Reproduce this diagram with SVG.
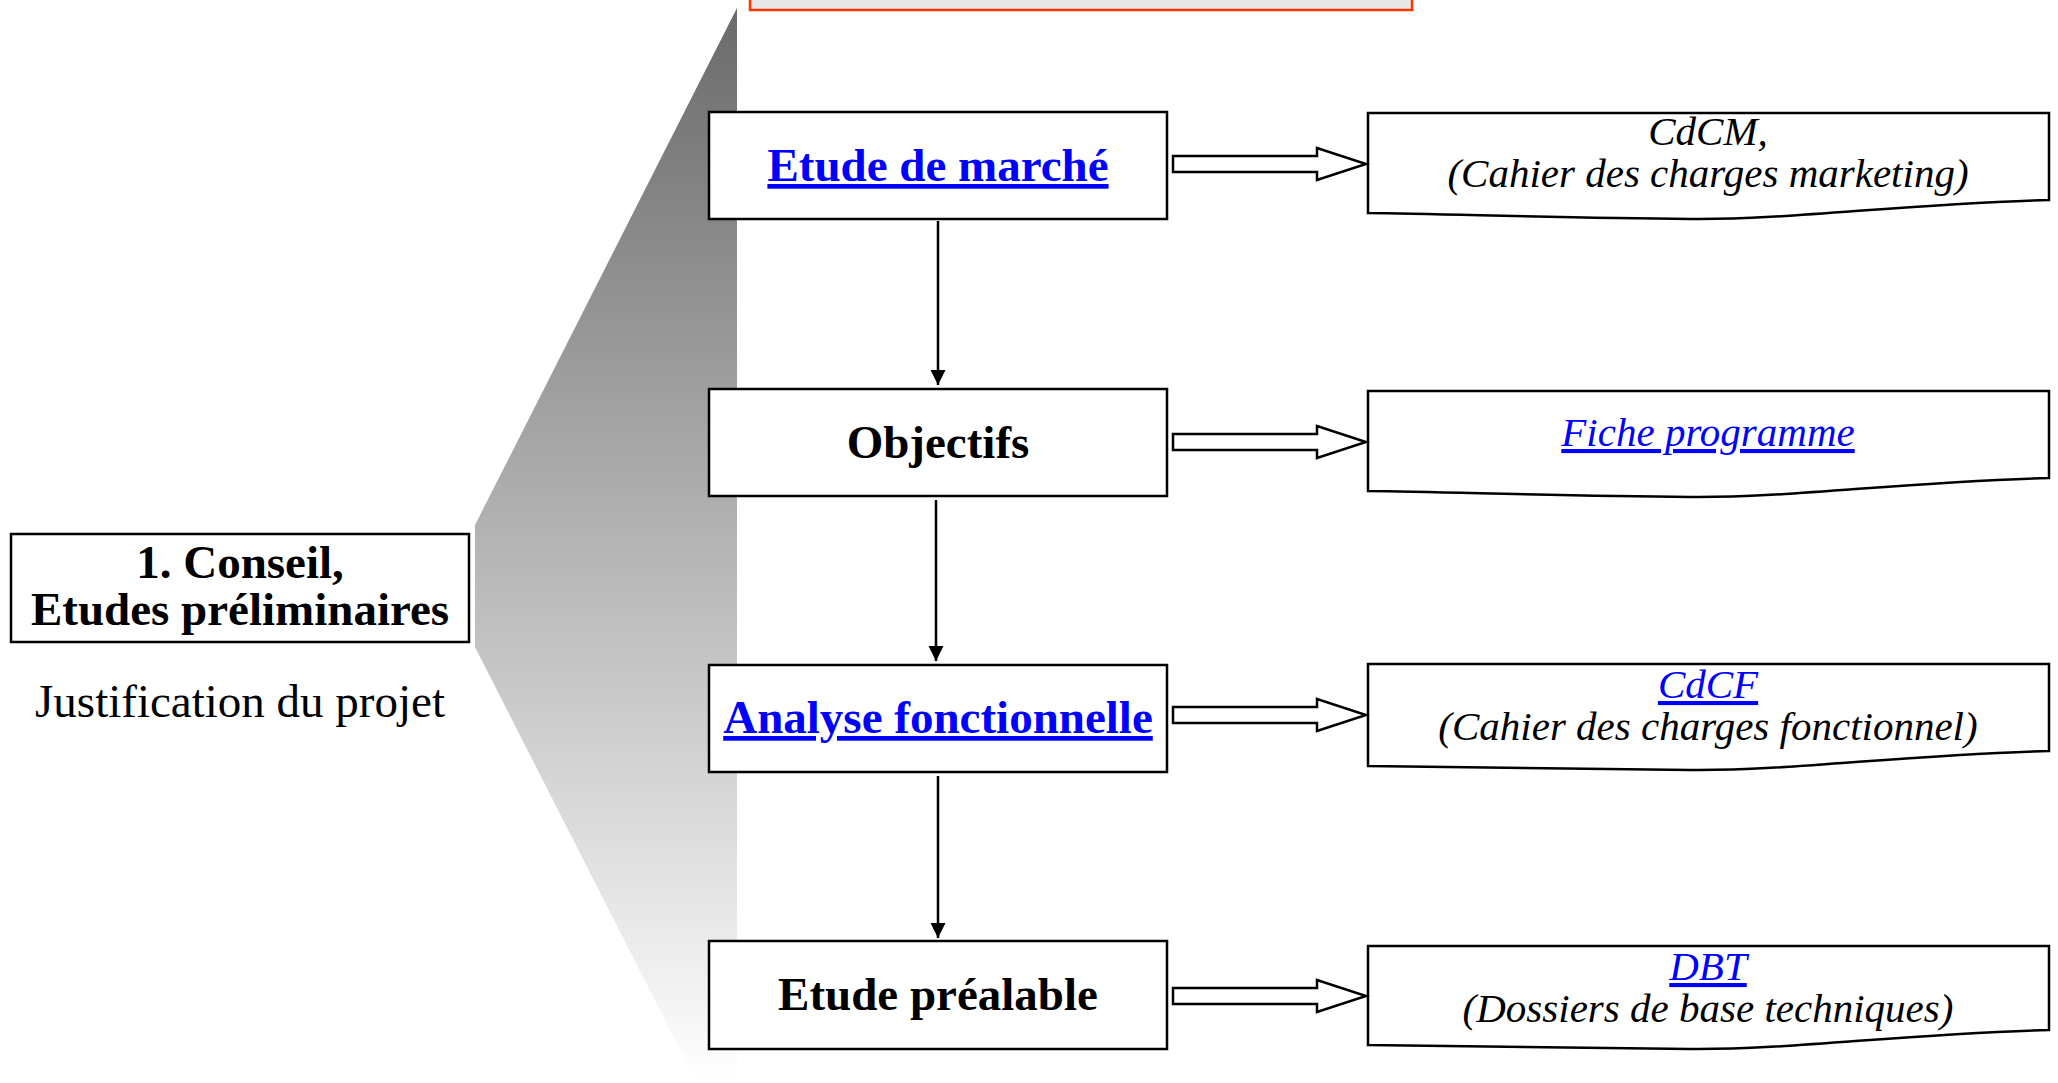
<svg xmlns="http://www.w3.org/2000/svg" width="2058" height="1083" viewBox="0 0 2058 1083">
  <style>
    .box { fill: #ffffff; stroke: #000000; stroke-width: 2.5; }
    .doc { fill: #ffffff; stroke: #000000; stroke-width: 2.5; }
    .big { fill: none; stroke: #000000; stroke-width: 2.5; }
    .flow { fill: none; stroke: #000000; stroke-width: 2.5; marker-end: url(#head); }
    .bold { font-family: "Liberation Serif", "Times New Roman", serif; font-weight: bold; font-size: 47px; text-anchor: middle; fill: #000000; }
    .plain { font-family: "Liberation Serif", "Times New Roman", serif; font-size: 47px; text-anchor: middle; fill: #000000; }
    .ital { font-family: "Liberation Serif", "Times New Roman", serif; font-style: italic; font-size: 41px; text-anchor: middle; fill: #000000; }
    .link { fill: #0000ff; text-decoration: underline; text-decoration-thickness: 4px; }
    .ital.link { text-decoration-thickness: 3px; }
  </style>
  <defs>
    <linearGradient id="fade" x1="0" y1="0" x2="0" y2="1">
      <stop offset="0" stop-color="#6a6a6a"/>
      <stop offset="1" stop-color="#ffffff"/>
    </linearGradient>
    <marker id="head" viewBox="0 0 10 10" refX="10" refY="5" markerWidth="6" markerHeight="7" markerUnits="strokeWidth" orient="auto">
      <path d="M0,0 L10,5 L0,10 Z" fill="#000000"/>
    </marker>
    <path id="blockArrow" d="M0,-8 H144 V-16 L193,0 L144,16 V8 H0 Z"/>
  </defs>

  <!-- banner cut by the top edge -->
  <rect id="banner" x="750" y="-20" width="662" height="30" fill="#e8e8e8" stroke="#ff3300" stroke-width="2.5"/>

  <!-- shaded zoom wedge from the phase box to the step column -->
  <polygon id="wedge" points="475,525 737,8 737,1083 697,1083 475,647" fill="url(#fade)"/>

  <!-- phase -->
  <g id="phase">
    <rect class="box" x="11" y="534" width="458" height="108"/>
    <text class="bold" x="240" y="578">1. Conseil,</text>
    <text class="bold" x="240" y="625">Etudes préliminaires</text>
  </g>
  <g id="phase-note">
    <text class="plain" x="240" y="717">Justification du projet</text>
  </g>

  <!-- steps -->
  <g id="step-marche">
    <rect class="box" x="709" y="112" width="458" height="107"/>
    <text class="bold link" x="938" y="181">Etude de marché</text>
  </g>
  <g id="step-objectifs">
    <rect class="box" x="709" y="389" width="458" height="107"/>
    <text class="bold" x="938" y="458">Objectifs</text>
  </g>
  <g id="step-analyse">
    <rect class="box" x="709" y="665" width="458" height="107"/>
    <text class="bold link" x="938" y="733">Analyse fonctionnelle</text>
  </g>
  <g id="step-prealable">
    <rect class="box" x="709" y="941" width="458" height="108"/>
    <text class="bold" x="938" y="1010">Etude préalable</text>
  </g>

  <!-- deliverables -->
  <g id="doc-cdcm">
    <path class="doc" d="M1368,113 H2049 V200 C1900,204 1790,220 1690,219 C1560,218 1450,214 1368,213 Z"/>
    <text class="ital" x="1708" y="145">CdCM,</text>
    <text class="ital" x="1708" y="187">(Cahier des charges marketing)</text>
  </g>
  <g id="doc-fiche">
    <path class="doc" d="M1368,391 H2049 V478 C1900,482 1790,498 1690,497 C1560,496 1450,492 1368,491 Z"/>
    <text class="ital link" x="1708" y="446">Fiche programme</text>
  </g>
  <g id="doc-cdcf">
    <path class="doc" d="M1368,664 H2049 V751 C1900,755 1790,771 1690,770 C1560,769 1450,767 1368,766 Z"/>
    <text class="ital link" x="1708" y="698">CdCF</text>
    <text class="ital" x="1708" y="740">(Cahier des charges fonctionnel)</text>
  </g>
  <g id="doc-dbt">
    <path class="doc" d="M1368,946 H2049 V1030 C1900,1034 1790,1050 1690,1049 C1560,1048 1450,1046 1368,1045 Z"/>
    <text class="ital link" x="1708" y="980">DBT</text>
    <text class="ital" x="1708" y="1022">(Dossiers de base techniques)</text>
  </g>

  <!-- connectors -->
  <g id="connectors">
    <line class="flow" x1="938" y1="221" x2="938" y2="385"/>
    <line class="flow" x1="936" y1="500" x2="936" y2="661"/>
    <line class="flow" x1="938" y1="776" x2="938" y2="938"/>
    <use href="#blockArrow" class="big" x="1173" y="164" fill="#ffffff"/>
    <use href="#blockArrow" class="big" x="1173" y="442" fill="#ffffff"/>
    <use href="#blockArrow" class="big" x="1173" y="715" fill="#ffffff"/>
    <use href="#blockArrow" class="big" x="1173" y="996" fill="#ffffff"/>
  </g>
</svg>
